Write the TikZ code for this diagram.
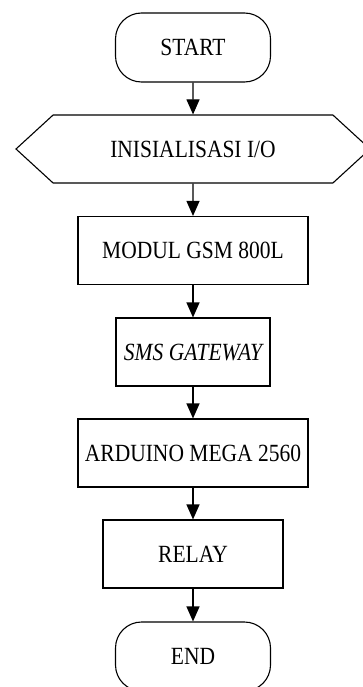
\documentclass[tikz,border=0pt]{standalone}
\usepackage{fontspec}
\setmainfont{Liberation Serif}
\usetikzlibrary{arrows.meta,shapes.symbols}

% text in the reference is a little taller than it is wide
\newcommand{\tallText}[1]{\scalebox{1}[1.15]{#1}}

\tikzset{
  base/.style={draw, line width=1.1pt, minimum height=68pt, inner sep=0pt,
    font=\fontsize{21.5}{24}\selectfont},
  term/.style={base, rectangle, rounded corners=26pt, minimum width=155pt, minimum height=69pt},
  proc/.style={base, rectangle},
  io/.style={base, signal, signal to=east and west, signal pointer angle=85, minimum width=354pt},
  flow/.style={-{Triangle[width=13pt,length=15pt]}, line width=1.1pt},
}

\begin{document}
\begin{tikzpicture}[x=1pt, y=1pt]
  \useasboundingbox (0,0) rectangle (363,-687);

  \node[term] (start) at (193,-47.5) {\tallText{START}};
  \node[io] (init) at (193,-149) {\tallText{INISIALISASI I/O}};
  \node[proc, minimum width=230pt] (gsm) at (193,-250.5) {\tallText{MODUL GSM 800L}};
  \node[proc, minimum width=154pt] (sms) at (193,-352) {\tallText{\itshape SMS GATEWAY}};
  \node[proc, minimum width=230pt] (mega) at (193,-453) {\tallText{ARDUINO MEGA 2560}};
  \node[proc, minimum width=180pt] (relay) at (193,-554) {\tallText{RELAY}};
  \node[term] (end) at (193,-656.5) {\tallText{END}};

  \foreach \a/\b in {start/init, init/gsm, gsm/sms, sms/mega, mega/relay, relay/end} {
    \draw[flow] (\a) -- (\b);
  }
\end{tikzpicture}
\end{document}
